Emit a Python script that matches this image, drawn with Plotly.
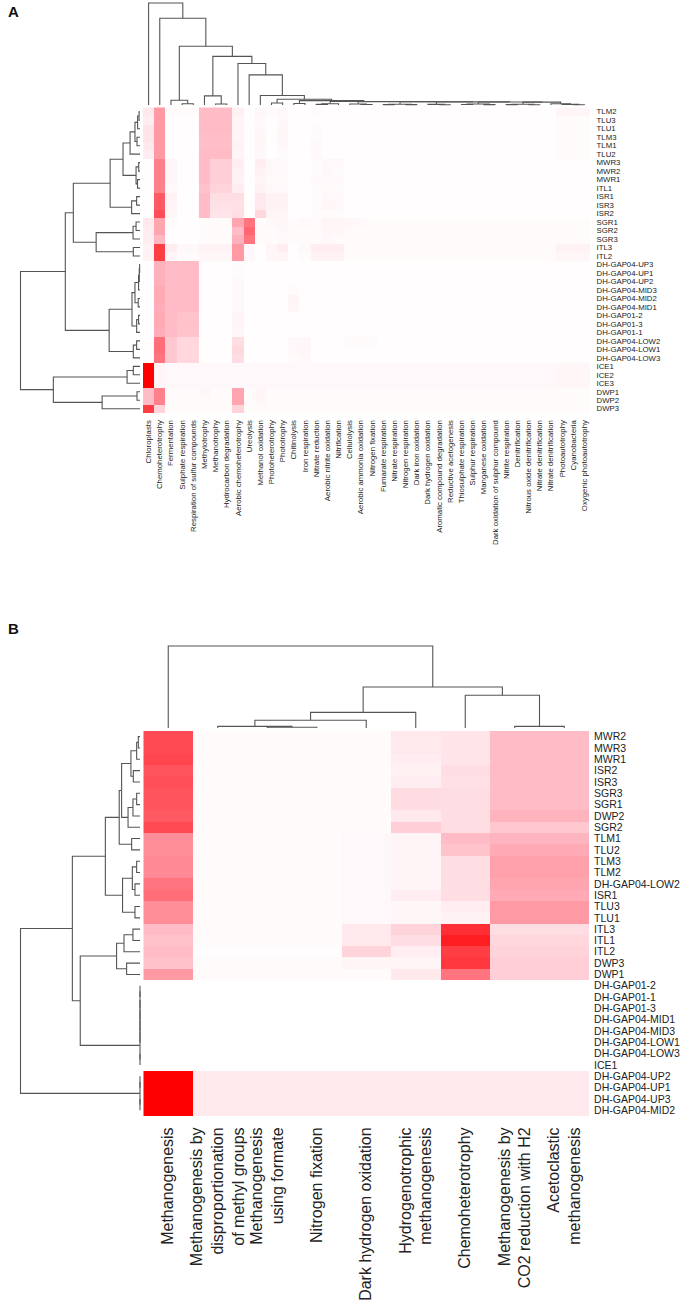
import plotly.graph_objects as go

W, H = 683, 1304

# ---------------- Panel A data ----------------
a_rows = ["TLM2", "TLU3", "TLU1", "TLM3", "TLM1", "TLU2", "MWR3", "MWR2", "MWR1", "ITL1",
          "ISR1", "ISR3", "ISR2", "SGR1", "SGR2", "SGR3", "ITL3", "ITL2",
          "DH-GAP04-UP3", "DH-GAP04-UP1", "DH-GAP04-UP2", "DH-GAP04-MID3", "DH-GAP04-MID2",
          "DH-GAP04-MID1", "DH-GAP01-2", "DH-GAP01-3", "DH-GAP01-1", "DH-GAP04-LOW2",
          "DH-GAP04-LOW1", "DH-GAP04-LOW3", "ICE1", "ICE2", "ICE3", "DWP1", "DWP2", "DWP3"]

a_cols = ["Chloroplasts", "Chemoheterotrophy", "Fermentation", "Sulphate respiration",
          "Respiration of sulfur compounds", "Methylotrophy", "Methanotrophy",
          "Hydrocarbon degradation", "Aerobic chemoheterotrophy", "Ureolysis",
          "Methanol oxidation", "Photoheterotrophy", "Phototrophy", "Chitinolysis",
          "Iron respiration", "Nitrate reduction", "Aerobic nitrite oxidation", "Nitrification",
          "Cellulolysis", "Aerobic ammonia oxidation", "Nitrogen fixation", "Fumarate respiration",
          "Nitrate respiration", "Nitrogen respiration", "Dark iron oxidation",
          "Dark hydrogen oxidation", "Aromatic compound degradation", "Reductive acetogenesis",
          "Thiosulphate respiration", "Sulphur respiration", "Manganese oxidation",
          "Dark oxidation of sulphur compound", "Nitrite respiration", "Denitrification",
          "Nitrous oxide denitrification", "Nitrate denitrification", "Nitrate denitrification",
          "Photoautotrophy", "Cyanobacteria", "Oxygenic photoautotrophy"]

a_vals = [
    [.10,.45,.02,.02,.02,.30,.30,.30,.07,.01, .04,.02,.03,.01,.01,.02,.01,.01,.01,.01, .01,.01,.01,.01,.01,.01,.01,.01,.01,.01, .01,.01,.01,.01,.01,.01,.01,.05,.05,.05],
    [.08,.45,.01,.01,.01,.30,.30,.30,.05,.01, .03,.01,.03,.01,.01,.01,.01,.01,.01,.01, .01,.01,.01,.01,.01,.01,.01,.01,.01,.01, .01,.01,.01,.01,.01,.01,.01,.02,.02,.02],
    [.12,.45,.01,.01,.01,.30,.30,.30,.05,.01, .03,.01,.04,.01,.01,.02,.01,.01,.01,.01, .01,.01,.01,.01,.01,.01,.01,.01,.01,.01, .01,.01,.01,.01,.01,.01,.01,.02,.02,.02],
    [.12,.45,.01,.01,.01,.29,.29,.29,.05,.01, .04,.01,.04,.01,.01,.02,.01,.01,.01,.01, .01,.01,.01,.01,.01,.01,.01,.01,.01,.01, .01,.01,.01,.01,.01,.01,.01,.02,.02,.02],
    [.10,.45,.01,.01,.01,.29,.29,.29,.06,.01, .04,.01,.03,.01,.01,.03,.01,.01,.01,.01, .01,.01,.01,.01,.01,.01,.01,.01,.01,.01, .01,.01,.01,.01,.01,.01,.01,.02,.02,.02],
    [.08,.45,.01,.01,.01,.30,.30,.30,.05,.01, .03,.01,.02,.01,.01,.03,.01,.01,.01,.01, .01,.01,.01,.01,.01,.01,.01,.01,.01,.01, .01,.01,.01,.01,.01,.01,.01,.02,.02,.02],
    [.01,.55,.04,.01,.01,.30,.22,.22,.08,.01, .08,.03,.03,.01,.01,.02,.03,.03,.01,.01, .01,.01,.01,.01,.01,.01,.01,.01,.01,.01, .01,.01,.01,.01,.01,.01,.01,.01,.01,.01],
    [.01,.55,.04,.01,.01,.30,.22,.22,.07,.01, .06,.03,.03,.01,.01,.02,.03,.02,.01,.01, .01,.01,.01,.01,.01,.01,.01,.01,.01,.01, .01,.01,.01,.01,.01,.01,.01,.01,.01,.01],
    [.01,.55,.04,.01,.01,.30,.22,.22,.06,.01, .05,.02,.02,.01,.01,.03,.03,.03,.01,.01, .01,.01,.01,.01,.01,.01,.01,.01,.01,.01, .01,.01,.01,.01,.01,.01,.01,.01,.01,.01],
    [.01,.55,.03,.01,.01,.28,.20,.20,.08,.01, .06,.03,.03,.01,.01,.02,.02,.02,.01,.01, .01,.01,.01,.01,.01,.01,.01,.01,.01,.01, .01,.01,.01,.01,.01,.01,.01,.01,.01,.01],
    [.01,.70,.06,.01,.01,.30,.15,.15,.15,.01, .10,.06,.06,.01,.01,.02,.03,.03,.01,.01, .01,.01,.01,.01,.01,.01,.01,.01,.01,.01, .01,.01,.01,.01,.01,.01,.01,.01,.01,.01],
    [.01,.70,.05,.01,.01,.30,.13,.13,.14,.01, .10,.06,.06,.01,.01,.02,.04,.03,.01,.01, .01,.01,.01,.01,.01,.01,.01,.01,.01,.01, .01,.01,.01,.01,.01,.01,.01,.01,.01,.01],
    [.01,.75,.04,.01,.01,.30,.12,.12,.15,.01, .18,.05,.05,.01,.01,.02,.02,.02,.01,.01, .01,.01,.01,.01,.01,.01,.01,.01,.01,.01, .01,.01,.01,.01,.01,.01,.01,.01,.01,.01],
    [.10,.40,.02,.01,.01,.02,.02,.02,.40,.60, .02,.03,.04,.02,.03,.02,.05,.04,.04,.03, .02,.02,.02,.02,.02,.02,.02,.02,.02,.02, .02,.02,.02,.02,.02,.02,.02,.02,.02,.02],
    [.08,.40,.01,.01,.01,.02,.02,.02,.30,.65, .02,.02,.03,.02,.02,.02,.04,.04,.02,.02, .02,.02,.02,.02,.02,.02,.02,.02,.02,.02, .02,.02,.02,.02,.02,.02,.02,.02,.02,.02],
    [.08,.32,.01,.01,.01,.02,.02,.02,.35,.60, .02,.02,.03,.02,.02,.02,.03,.02,.02,.02, .02,.02,.02,.02,.02,.02,.02,.02,.02,.02, .02,.02,.02,.02,.02,.02,.02,.02,.02,.02],
    [.06,.80,.08,.03,.03,.06,.06,.06,.45,.03, .01,.05,.08,.01,.03,.08,.08,.08,.02,.02, .02,.02,.02,.02,.02,.02,.02,.02,.02,.02, .02,.02,.02,.02,.02,.02,.02,.06,.06,.06],
    [.06,.80,.05,.02,.02,.04,.04,.04,.45,.03, .01,.04,.05,.01,.02,.06,.06,.06,.02,.02, .02,.02,.02,.02,.02,.02,.02,.02,.02,.02, .02,.02,.02,.02,.02,.02,.02,.04,.04,.04],
    [.01,.35,.30,.30,.30,.01,.01,.01,.02,.01, .01,.01,.01,.01,.01,.01,.01,.01,.01,.01, .01,.01,.01,.01,.01,.01,.01,.01,.01,.01, .01,.01,.01,.01,.01,.01,.01,.01,.01,.01],
    [.01,.35,.30,.30,.30,.01,.01,.01,.02,.01, .01,.01,.01,.01,.01,.01,.01,.01,.01,.01, .01,.01,.01,.01,.01,.01,.01,.01,.01,.01, .01,.01,.01,.01,.01,.01,.01,.01,.01,.01],
    [.01,.35,.30,.30,.30,.01,.01,.01,.03,.01, .01,.01,.01,.01,.01,.01,.01,.01,.01,.01, .01,.01,.01,.01,.01,.01,.01,.01,.01,.01, .01,.01,.01,.01,.01,.01,.01,.01,.01,.01],
    [.01,.38,.30,.30,.30,.01,.01,.01,.03,.01, .01,.01,.01,.02,.01,.01,.01,.01,.01,.01, .01,.01,.01,.01,.01,.01,.01,.01,.01,.01, .01,.01,.01,.01,.01,.01,.01,.01,.01,.01],
    [.01,.38,.30,.30,.30,.01,.01,.01,.03,.01, .01,.01,.01,.05,.01,.01,.01,.01,.01,.01, .01,.01,.01,.01,.01,.01,.01,.01,.01,.01, .01,.01,.01,.01,.01,.01,.01,.01,.01,.01],
    [.01,.36,.30,.30,.30,.01,.01,.01,.03,.01, .01,.01,.01,.04,.01,.01,.01,.01,.01,.01, .01,.01,.01,.01,.01,.01,.01,.01,.01,.01, .01,.01,.01,.01,.01,.01,.01,.01,.01,.01],
    [.01,.38,.30,.27,.27,.01,.01,.01,.05,.01, .01,.01,.01,.01,.01,.01,.01,.01,.01,.01, .01,.01,.01,.01,.01,.01,.01,.01,.01,.01, .01,.01,.01,.01,.01,.01,.01,.01,.01,.01],
    [.01,.38,.30,.28,.28,.01,.01,.01,.05,.01, .01,.01,.01,.01,.01,.01,.01,.01,.01,.01, .01,.01,.01,.01,.01,.01,.01,.01,.01,.01, .01,.01,.01,.01,.01,.01,.01,.01,.01,.01],
    [.01,.36,.30,.27,.27,.01,.01,.01,.04,.01, .01,.01,.01,.01,.01,.01,.01,.01,.01,.01, .01,.01,.01,.01,.01,.01,.01,.01,.01,.01, .01,.01,.01,.01,.01,.01,.01,.01,.01,.01],
    [.01,.62,.25,.18,.18,.01,.01,.01,.15,.01, .01,.01,.01,.03,.04,.01,.01,.01,.02,.02, .02,.01,.01,.01,.01,.01,.01,.01,.01,.01, .01,.01,.01,.01,.01,.01,.01,.01,.01,.01],
    [.01,.62,.25,.18,.18,.01,.01,.01,.18,.01, .01,.01,.01,.03,.04,.01,.01,.01,.01,.01, .01,.01,.01,.01,.01,.01,.01,.01,.01,.01, .01,.01,.01,.01,.01,.01,.01,.01,.01,.01],
    [.01,.60,.25,.18,.18,.01,.01,.01,.15,.01, .01,.01,.01,.02,.03,.01,.01,.01,.01,.01, .01,.01,.01,.01,.01,.01,.01,.01,.01,.01, .01,.01,.01,.01,.01,.01,.01,.01,.01,.01],
    [1.0,.05,.03,.03,.03,.03,.03,.03,.03,.03, .03,.03,.03,.03,.03,.03,.03,.03,.03,.03, .03,.03,.03,.03,.03,.03,.03,.03,.03,.03, .03,.03,.03,.03,.03,.03,.03,.04,.04,.04],
    [1.0,.05,.03,.03,.03,.03,.03,.03,.03,.03, .03,.03,.03,.03,.03,.03,.03,.03,.03,.03, .03,.03,.03,.03,.03,.03,.03,.03,.03,.03, .03,.03,.03,.03,.03,.03,.03,.04,.04,.04],
    [1.0,.05,.03,.03,.03,.03,.03,.03,.03,.03, .03,.03,.03,.03,.03,.03,.03,.03,.03,.03, .03,.03,.03,.03,.03,.03,.03,.03,.03,.03, .03,.03,.03,.03,.03,.03,.03,.04,.04,.04],
    [.30,.55,.02,.02,.02,.04,.02,.02,.40,.02, .05,.02,.02,.02,.02,.02,.02,.02,.02,.02, .02,.02,.02,.02,.02,.02,.02,.02,.02,.02, .02,.02,.02,.02,.02,.02,.02,.02,.02,.02],
    [.30,.55,.02,.02,.02,.02,.02,.02,.40,.02, .04,.02,.02,.02,.02,.02,.02,.02,.02,.02, .02,.02,.02,.02,.02,.02,.02,.02,.02,.02, .02,.02,.02,.02,.02,.02,.02,.02,.02,.02],
    [.80,.20,.02,.02,.02,.02,.02,.02,.20,.02, .02,.02,.02,.02,.02,.02,.02,.02,.02,.02, .02,.02,.02,.02,.02,.02,.02,.02,.02,.02, .02,.02,.02,.02,.02,.02,.02,.02,.02,.02],
]

# dendrograms: [height, left, right]; leaves are display indices
a_row_tree = [1.0,
              [0.625,
               [0.558,
                [0.25,
                 [0.142,
                  [0.083, [0.042, [0.02, [0.008, 0, 1], 2], [0.025, 3, 4]], 5],
                  [0.033, [0.011, 6, 7], [0.021, 8, 9]]],
                 [0.07, [0.028, 10, 11], 12]],
                [0.367, [0.058, [0.033, 13, 14], 15], [0.056, 16, 17]]],
               [0.258,
                [0.067,
                 [0.042, [0.012, [0.006, [0.003, 18, 19], 20], 21], [0.015, 22, 23]],
                 [0.028, [0.012, 24, 25], 26]],
                [0.056, [0.028, 27, 28], 29]]],
              [0.725, [0.108, [0.056, 30, 31], 32], [0.317, [0.025, 33, 34], 35]]]

a_col_g8 = [0.012, 36, [0.006, 37, [0.003, 38, 39]]]
a_col_g7 = [0.028, [0.008, [0.004, 32, 33], [0.003, 34, 35]], a_col_g8]
a_col_g6 = [0.03, [0.01, [0.005, 28, 29], [0.004, 30, 31]], a_col_g7]
a_col_g5 = [0.031, [0.006, 25, [0.003, 26, 27]], a_col_g6]
a_col_g4 = [0.032, [0.008, [0.004, 21, 22], [0.004, 23, 24]], a_col_g5]
a_col_g3 = [0.033, [0.01, 18, [0.005, 19, 20]], a_col_g4]
a_col_g2 = [0.035, [0.012, [0.006, 15, 16], 17], a_col_g3]
a_col_rest = [0.043, [0.015, 13, 14], a_col_g2]
a_col_tree = [1.0, 0,
              [0.85, 1,
               [0.576, [0.046, 2, [0.012, 3, 4]],
                [0.477, [0.089, 5, [0.01, 6, 7]],
                 [0.407, 8,
                  [0.295, 9,
                   [0.093, 10,
                    [0.056, [0.02, 11, 12], a_col_rest]]]]]]]]

# ---------------- Panel B data ----------------
b_rows = ["MWR2", "MWR3", "MWR1", "ISR2", "ISR3", "SGR3", "SGR1", "DWP2", "SGR2", "TLM1",
          "TLU2", "TLM3", "TLM2", "DH-GAP04-LOW2", "ISR1", "TLU3", "TLU1", "ITL3", "ITL1",
          "ITL2", "DWP3", "DWP1", "DH-GAP01-2", "DH-GAP01-1", "DH-GAP01-3", "DH-GAP04-MID1",
          "DH-GAP04-MID3", "DH-GAP04-LOW1", "DH-GAP04-LOW3", "ICE1", "DH-GAP04-UP2",
          "DH-GAP04-UP1", "DH-GAP04-UP3", "DH-GAP04-MID2"]

b_cols = ["Methanogenesis",
          "Methanogenesis by<br>disproportionation<br>of methyl groups",
          "Methanogenesis<br>using formate",
          "Nitrogen fixation",
          "Dark hydrogen oxidation",
          "Hydrogenotrophic<br>methanogenesis",
          "Chemoheterotrophy",
          "Methanogenesis by<br>CO2 reduction with H2",
          "Acetoclastic<br>methanogenesis"]

b_vals = [
    [.76, .02, .02, .02, .02, .10, .12, .30, .30],
    [.76, .02, .02, .02, .02, .10, .12, .30, .30],
    [.77, .02, .02, .02, .02, .08, .12, .30, .30],
    [.72, .02, .02, .02, .02, .07, .15, .30, .30],
    [.74, .02, .02, .02, .02, .08, .14, .30, .30],
    [.72, .02, .02, .02, .02, .16, .15, .30, .30],
    [.72, .02, .02, .02, .02, .16, .15, .30, .30],
    [.70, .02, .02, .02, .02, .10, .15, .34, .34],
    [.76, .02, .02, .02, .02, .22, .15, .25, .25],
    [.50, .02, .02, .02, .03, .05, .30, .33, .33],
    [.50, .02, .02, .02, .03, .05, .27, .38, .38],
    [.52, .02, .02, .02, .03, .05, .15, .42, .42],
    [.52, .02, .02, .02, .03, .05, .15, .42, .42],
    [.60, .02, .02, .02, .03, .05, .15, .40, .40],
    [.62, .02, .02, .02, .03, .08, .15, .38, .38],
    [.50, .02, .02, .02, .03, .04, .08, .45, .45],
    [.50, .02, .02, .02, .03, .04, .06, .45, .45],
    [.30, .02, .02, .02, .10, .20, .85, .15, .15],
    [.28, .02, .02, .02, .10, .15, .90, .18, .18],
    [.30, .01, .01, .01, .20, .08, .80, .20, .20],
    [.28, .02, .02, .02, .05, .05, .82, .22, .22],
    [.45, .02, .02, .02, .02, .10, .60, .22, .22],
    [0, 0, 0, 0, 0, 0, 0, 0, 0],
    [0, 0, 0, 0, 0, 0, 0, 0, 0],
    [0, 0, 0, 0, 0, 0, 0, 0, 0],
    [0, 0, 0, 0, 0, 0, 0, 0, 0],
    [0, 0, 0, 0, 0, 0, 0, 0, 0],
    [0, 0, 0, 0, 0, 0, 0, 0, 0],
    [0, 0, 0, 0, 0, 0, 0, 0, 0],
    [0, 0, 0, 0, 0, 0, 0, 0, 0],
    [1.0, .10, .10, .10, .10, .10, .10, .10, .10],
    [1.0, .10, .10, .10, .10, .10, .10, .10, .10],
    [1.0, .10, .10, .10, .10, .10, .10, .10, .10],
    [1.0, .10, .10, .10, .10, .10, .10, .10, .10],
]

b_zero_grp = [0.0, [0.0, [0.0, [0.0, [0.0, [0.0, 22, 23], 24], 25], 26], 27], [0.0, 28, 29]]
b_row_tree = [1.0,
              [0.566,
               [0.29,
                [0.174,
                 [0.154,
                  [0.076, [0.028, [0.014, 0, 1], 2], [0.056, 3, 4]],
                  [0.10, [0.059, [0.028, 5, 6], 7], 8]],
                 [0.07, 9, 10]],
                [0.146, [0.064, [0.028, 11, 12], [0.042, 13, 14]], [0.042, 15, 16]]],
               [0.50,
                [0.196, [0.134, [0.059, 17, 18], 19], [0.112, 20, 21]],
                b_zero_grp]],
              [0.0, [0.0, 30, 31], [0.0, 32, 33]]]

b_col_tree = [1.0, 0, [0.50, [0.19, [0.095, [0.02, 1, [0.01, 2, 3]], 4], 5], [0.40, 6, [0.02, 7, 8]]]]

# ---------------- helpers ----------------
def dendro(tree, segs):
    if isinstance(tree, int):
        return float(tree), 0.0
    h, l, r = tree
    pl, hl = dendro(l, segs)
    pr, hr = dendro(r, segs)
    segs.append([(pl, hl), (pl, h), (pr, h), (pr, hr)])
    return (pl + pr) / 2.0, h


def dendro_xy(tree, orient, base, top):
    segs = []
    dendro(tree, segs)
    xs, ys = [], []
    for s in segs:
        for pos, h in s:
            v = base + h * (top - base)
            if orient == "col":
                xs.append(pos); ys.append(v)
            else:
                xs.append(v); ys.append(pos)
        xs.append(None); ys.append(None)
    return xs, ys


colorscale = [[0.0, "#ffffff"], [0.1, "#ffe9ed"], [0.3, "#ffbcc6"], [0.5, "#ff8e99"],
              [0.75, "#ff4c56"], [1.0, "#ff0000"]]
FONT = "Liberation Sans, Arial, sans-serif"
LINE = dict(color="#555555", width=1.1)

fig = go.Figure()

# ---------- panel A geometry (pixels) ----------
AX0, AX1, AHL = 10, 590, 143.0
AY0, AY1, AHT = 1, 413, 107.5
nA_c, nA_r = len(a_cols), len(a_rows)
cwA = (AX1 - AHL) / nA_c
rhA = (AY1 - AHT) / nA_r
ax_left = -0.5 - (AHL - AX0) / cwA
ay_top = -0.5 - (AHT - AY0) / rhA

fig.add_trace(go.Heatmap(z=a_vals, x=list(range(nA_c)), y=list(range(nA_r)),
                         colorscale=colorscale, zmin=0, zmax=1, showscale=False,
                         xaxis="x", yaxis="y", hoverinfo="skip"))
xs, ys = dendro_xy(a_col_tree, "col", -0.5 - (AHT - 105) / rhA, -0.5 - (AHT - 3) / rhA)
fig.add_trace(go.Scatter(x=xs, y=ys, mode="lines", line=LINE, xaxis="x", yaxis="y",
                         hoverinfo="skip", showlegend=False))
xs, ys = dendro_xy(a_row_tree, "row", -0.5 - (AHL - 140) / cwA, -0.5 - (AHL - 20.5) / cwA)
fig.add_trace(go.Scatter(x=xs, y=ys, mode="lines", line=LINE, xaxis="x", yaxis="y",
                         hoverinfo="skip", showlegend=False))

# ---------- panel B geometry (pixels) ----------
BX0, BX1, BHL = 10, 589, 143.5
BY0, BY1, BHT = 636, 1116, 731.0
nB_c, nB_r = len(b_cols), len(b_rows)
cwB = (BX1 - BHL) / nB_c
rhB = (BY1 - BHT) / nB_r
bx_left = -0.5 - (BHL - BX0) / cwB
by_top = -0.5 - (BHT - BY0) / rhB

fig.add_trace(go.Heatmap(z=b_vals, x=list(range(nB_c)), y=list(range(nB_r)),
                         colorscale=colorscale, zmin=0, zmax=1, showscale=False,
                         xaxis="x2", yaxis="y2", hoverinfo="skip"))
xs, ys = dendro_xy(b_col_tree, "col", -0.5 - (BHT - 728) / rhB, -0.5 - (BHT - 646) / rhB)
fig.add_trace(go.Scatter(x=xs, y=ys, mode="lines", line=LINE, xaxis="x2", yaxis="y2",
                         hoverinfo="skip", showlegend=False))
xs, ys = dendro_xy(b_row_tree, "row", -0.5 - (BHL - 140) / cwB, -0.5 - (BHL - 20.5) / cwB)
fig.add_trace(go.Scatter(x=xs, y=ys, mode="lines", line=LINE, xaxis="x2", yaxis="y2",
                         hoverinfo="skip", showlegend=False))

def fx(px):
    return px / W

def fy(px):
    return 1 - px / H

common = dict(showgrid=False, zeroline=False, showline=False, automargin=False,
              ticks="outside", tickcolor="rgba(0,0,0,0)")

fig.update_layout(
    width=W, height=H, template="none",
    margin=dict(l=0, r=0, t=0, b=0),
    paper_bgcolor="white", plot_bgcolor="white",
    showlegend=False,
    font=dict(family=FONT, color="#222222"),
    xaxis=dict(domain=[fx(AX0), fx(AX1)], range=[ax_left, nA_c - 0.5], anchor="y",
               tickvals=list(range(nA_c)), ticktext=a_cols, tickangle=-90, ticklen=3,
               tickfont=dict(size=7.8, family=FONT, color="#222222"), **common),
    yaxis=dict(domain=[fy(AY1), fy(AY0)], range=[nA_r - 0.5, ay_top], anchor="x", side="right",
               tickvals=list(range(nA_r)), ticktext=a_rows, ticklen=4,
               tickfont=dict(size=7.8, family=FONT, color="#222222"), **common),
    xaxis2=dict(domain=[fx(BX0), fx(BX1)], range=[bx_left, nB_c - 0.5], anchor="y2",
                tickvals=list(range(nB_c)), ticktext=b_cols, tickangle=-90, ticklen=4,
                tickfont=dict(size=16, family=FONT, color="#222222"), **common),
    yaxis2=dict(domain=[fy(BY1), fy(BY0)], range=[nB_r - 0.5, by_top], anchor="x2", side="right",
                tickvals=list(range(nB_r)), ticktext=b_rows, ticklen=2,
                tickfont=dict(size=10.5, family=FONT, color="#222222"), **common),
    annotations=[
        dict(text="<b>A</b>", x=fx(6), y=fy(12), xref="paper", yref="paper",
             xanchor="left", yanchor="middle", showarrow=False,
             font=dict(size=15, family=FONT, color="#111111")),
        dict(text="<b>B</b>", x=fx(6), y=fy(628), xref="paper", yref="paper",
             xanchor="left", yanchor="middle", showarrow=False,
             font=dict(size=15, family=FONT, color="#111111")),
    ],
)

fig.write_html("out.html", config={"displayModeBar": False},
               post_script="document.body.style.margin='0px';document.body.style.padding='0px';")
